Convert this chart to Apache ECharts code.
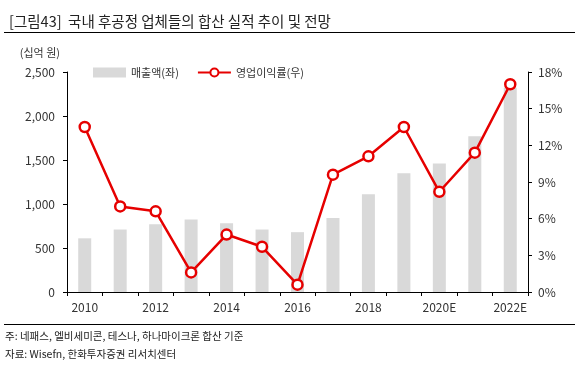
<!DOCTYPE html>
<html><head><meta charset="utf-8">
<script src="https://cdn.jsdelivr.net/npm/echarts@6/dist/echarts.min.js"></script>
<style>html,body{margin:0;padding:0;background:#fff}#c{width:575px;height:369px}</style>
</head><body><div id="c"></div>
<script>
const categories = ['2010','2011','2012','2013','2014','2015','2016','2017','2018','2019','2020E','2021E','2022E'];
const sales = [610, 710, 770, 825, 780, 710, 680, 840, 1110, 1350, 1460, 1770, 2320];
const margin = [13.5, 7.0, 6.6, 1.6, 4.7, 3.7, 0.6, 9.6, 11.1, 13.5, 8.2, 11.4, 17.0];
const leftTicks = [0, 2500, 500];
const rightTicks = [0, 18, 3];
const FONT = '"Noto Sans CJK KR", "Noto Sans", sans-serif';
const chart = echarts.init(document.getElementById('c'));
chart.setOption({
  animation: false,
  textStyle: {fontFamily: FONT},
  title: {text: '[그림43]  국내 후공정 업체들의 합산 실적 추이 및 전망', left: 4, top: 9,
    textStyle: {fontSize: 14.5, fontWeight: 'normal', color: '#222', fontFamily: FONT}},
  legend: {
    top: 62, left: 88, itemGap: 18, itemWidth: 33, itemHeight: 10,
    textStyle: {fontSize: 11, color: '#333', fontFamily: FONT},
    data: [{name: '매출액(좌)', icon: 'rect'}, {name: '영업이익률(우)'}]
  },
  grid: {left: 67, right: 47, top: 72, bottom: 77},
  xAxis: {
    type: 'category', data: categories, boundaryGap: true,
    axisLine: {lineStyle: {color: '#000', width: 1}},
    axisTick: {show: true, interval: 0, length: 4, lineStyle: {color: '#000'}},
    axisLabel: {interval: 1, color: '#333', fontSize: 12, margin: 9, fontFamily: FONT}
  },
  yAxis: [{
    type: 'value', min: leftTicks[0], max: leftTicks[1], interval: leftTicks[2],
    name: '(십억 원)', nameLocation: 'end', nameGap: 14,
    nameTextStyle: {fontSize: 11, color: '#333', align: 'right', padding: [0, 7, 0, 0]},
    axisLine: {show: true, lineStyle: {color: '#000'}},
    axisTick: {show: true, length: 4, lineStyle: {color: '#000'}},
    splitLine: {show: false},
    axisLabel: {color: '#333', fontSize: 12, margin: 12,
      formatter: v => v.toLocaleString('en-US')}
  }, {
    type: 'value', min: rightTicks[0], max: rightTicks[1], interval: rightTicks[2], position: 'right',
    axisLine: {show: true, lineStyle: {color: '#000'}},
    axisTick: {show: true, length: 4, lineStyle: {color: '#000'}},
    splitLine: {show: false},
    axisLabel: {color: '#333', fontSize: 12, margin: 10, formatter: '{value}%'}
  }],
  series: [{
    name: '매출액(좌)', type: 'bar', data: sales, barWidth: 13,
    itemStyle: {color: '#d9d9d9'}
  }, {
    name: '영업이익률(우)', type: 'line', yAxisIndex: 1, data: margin,
    symbol: 'circle', symbolSize: 10,
    lineStyle: {color: '#e60000', width: 2.5},
    itemStyle: {color: '#fff', borderColor: '#e60000', borderWidth: 2.5}
  }],
  graphic: [
    {type: 'line', shape: {x1: 4, y1: 32.5, x2: 575, y2: 32.5}, style: {stroke: '#000', lineWidth: 1.2}},
    {type: 'line', shape: {x1: 4, y1: 324.5, x2: 575, y2: 324.5}, style: {stroke: '#000', lineWidth: 1.2}},
    {type: 'text', left: 5, top: 331, style: {text: '주: 네패스, 엘비세미콘, 테스나, 하나마이크론 합산 기준', fontSize: 10.5, fill: '#222', fontFamily: FONT}},
    {type: 'text', left: 5, top: 348.5, style: {text: '자료: Wisefn, 한화투자증권 리서치센터', fontSize: 10.5, fill: '#222', fontFamily: FONT}}
  ]
});
</script></body></html>
